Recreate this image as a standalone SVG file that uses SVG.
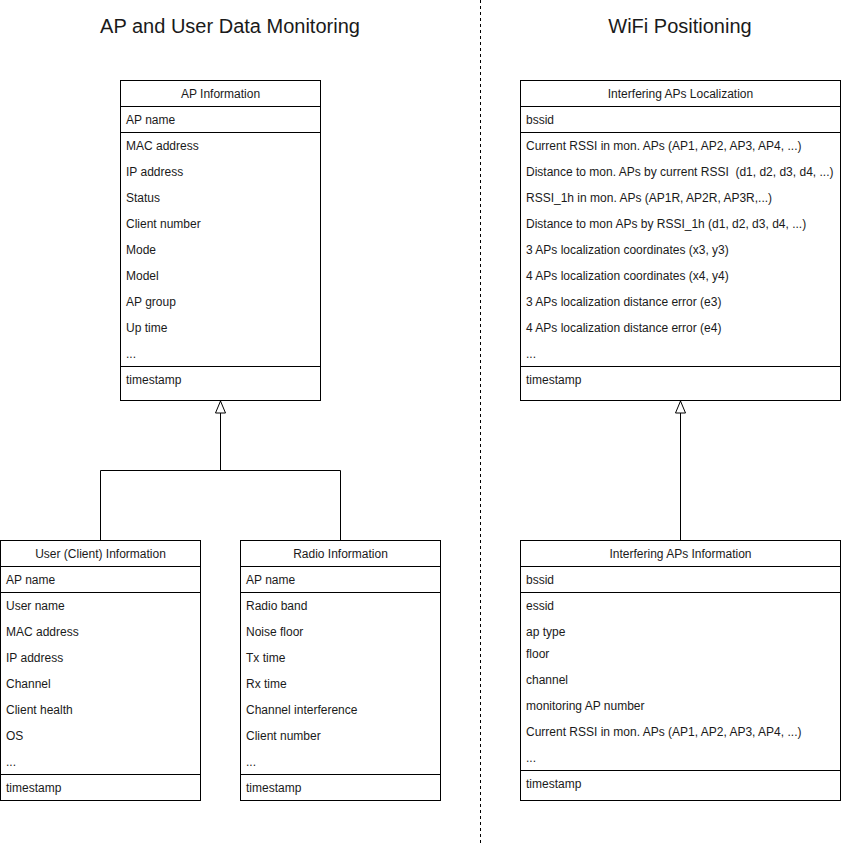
<svg xmlns="http://www.w3.org/2000/svg" width="841" height="843" viewBox="0 0 841 843">
<style>
.box{fill:#fff;stroke:#000;stroke-width:1}
.sep{stroke:#000;stroke-width:1}
.t{font-family:"Liberation Sans",Arial,sans-serif;font-size:12px;fill:#1a1a1a}
.h{text-anchor:middle}
.title{font-family:"Liberation Sans",Arial,sans-serif;font-size:20px;fill:#1a1a1a;text-anchor:middle}
.c{fill:none;stroke:#000;stroke-width:1}
</style>
<defs>
<marker id="tri" markerWidth="14" markerHeight="14" refX="13" refY="6" orient="auto" markerUnits="userSpaceOnUse" viewBox="0 0 14 14">
<path d="M1,1 L13,6 L1,11 Z" fill="#fff" stroke="#000" stroke-width="1"/>
</marker>
</defs>
<rect width="841" height="843" fill="#fff"/>
<g id="titles">
<text class="title" x="230" y="33">AP and User Data Monitoring</text>
<text class="title" x="680" y="33">WiFi Positioning</text>
</g>
<line x1="480.5" y1="0" x2="480.5" y2="843" stroke="#000" stroke-width="1" stroke-dasharray="3,3"/>
<g id="connectors">
<path class="c" d="M100.5,540 V470.5 H340.5 V540"/>
<path class="c" d="M220.5,470.5 V401" marker-end="url(#tri)"/>
<path class="c" d="M680.5,540 L680.5,401" marker-end="url(#tri)"/>
</g>
<g id="ap-information">
<rect class="box" x="120.5" y="80.5" width="200" height="320"/>
<line class="sep" x1="120.5" y1="106.5" x2="320.5" y2="106.5"/>
<line class="sep" x1="120.5" y1="132.5" x2="320.5" y2="132.5"/>
<line class="sep" x1="120.5" y1="366.5" x2="320.5" y2="366.5"/>
<text class="t h" x="220.5" y="98">AP Information</text>
<text class="t" x="126" y="124">AP name</text>
<text class="t" x="126" y="150">MAC address</text>
<text class="t" x="126" y="176">IP address</text>
<text class="t" x="126" y="202">Status</text>
<text class="t" x="126" y="228">Client number</text>
<text class="t" x="126" y="254">Mode</text>
<text class="t" x="126" y="280">Model</text>
<text class="t" x="126" y="306">AP group</text>
<text class="t" x="126" y="332">Up time</text>
<text class="t" x="126" y="358">...</text>
<text class="t" x="126" y="384">timestamp</text>
</g>
<g id="user-information">
<rect class="box" x="0.5" y="540.5" width="200" height="260"/>
<line class="sep" x1="0.5" y1="566.5" x2="200.5" y2="566.5"/>
<line class="sep" x1="0.5" y1="592.5" x2="200.5" y2="592.5"/>
<line class="sep" x1="0.5" y1="774.5" x2="200.5" y2="774.5"/>
<text class="t h" x="100.5" y="558">User (Client) Information</text>
<text class="t" x="6" y="584">AP name</text>
<text class="t" x="6" y="610">User name</text>
<text class="t" x="6" y="636">MAC address</text>
<text class="t" x="6" y="662">IP address</text>
<text class="t" x="6" y="688">Channel</text>
<text class="t" x="6" y="714">Client health</text>
<text class="t" x="6" y="740">OS</text>
<text class="t" x="6" y="766">...</text>
<text class="t" x="6" y="792">timestamp</text>
</g>
<g id="radio-information">
<rect class="box" x="240.5" y="540.5" width="200" height="260"/>
<line class="sep" x1="240.5" y1="566.5" x2="440.5" y2="566.5"/>
<line class="sep" x1="240.5" y1="592.5" x2="440.5" y2="592.5"/>
<line class="sep" x1="240.5" y1="774.5" x2="440.5" y2="774.5"/>
<text class="t h" x="340.5" y="558">Radio Information</text>
<text class="t" x="246" y="584">AP name</text>
<text class="t" x="246" y="610">Radio band</text>
<text class="t" x="246" y="636">Noise floor</text>
<text class="t" x="246" y="662">Tx time</text>
<text class="t" x="246" y="688">Rx time</text>
<text class="t" x="246" y="714">Channel interference</text>
<text class="t" x="246" y="740">Client number</text>
<text class="t" x="246" y="766">...</text>
<text class="t" x="246" y="792">timestamp</text>
</g>
<g id="interfering-aps-localization">
<rect class="box" x="520.5" y="80.5" width="320" height="320"/>
<line class="sep" x1="520.5" y1="106.5" x2="840.5" y2="106.5"/>
<line class="sep" x1="520.5" y1="132.5" x2="840.5" y2="132.5"/>
<line class="sep" x1="520.5" y1="366.5" x2="840.5" y2="366.5"/>
<text class="t h" x="680.5" y="98">Interfering APs Localization</text>
<text class="t" x="526" y="124">bssid</text>
<text class="t" x="526" y="150">Current RSSI in mon. APs (AP1, AP2, AP3, AP4, ...)</text>
<text class="t" x="526" y="176" xml:space="preserve">Distance to mon. APs by current RSSI  (d1, d2, d3, d4, ...)</text>
<text class="t" x="526" y="202">RSSI_1h in mon. APs (AP1R, AP2R, AP3R,...)</text>
<text class="t" x="526" y="228">Distance to mon APs by RSSI_1h (d1, d2, d3, d4, ...)</text>
<text class="t" x="526" y="254">3 APs localization coordinates (x3, y3)</text>
<text class="t" x="526" y="280">4 APs localization coordinates (x4, y4)</text>
<text class="t" x="526" y="306">3 APs localization distance error (e3)</text>
<text class="t" x="526" y="332">4 APs localization distance error (e4)</text>
<text class="t" x="526" y="358">...</text>
<text class="t" x="526" y="384">timestamp</text>
</g>
<g id="interfering-aps-information">
<rect class="box" x="520.5" y="540.5" width="320" height="260"/>
<line class="sep" x1="520.5" y1="566.5" x2="840.5" y2="566.5"/>
<line class="sep" x1="520.5" y1="592.5" x2="840.5" y2="592.5"/>
<line class="sep" x1="520.5" y1="770.5" x2="840.5" y2="770.5"/>
<text class="t h" x="680.5" y="558">Interfering APs Information</text>
<text class="t" x="526" y="584">bssid</text>
<text class="t" x="526" y="610">essid</text>
<text class="t" x="526" y="636">ap type</text>
<text class="t" x="526" y="658">floor</text>
<text class="t" x="526" y="684">channel</text>
<text class="t" x="526" y="710">monitoring AP number</text>
<text class="t" x="526" y="736">Current RSSI in mon. APs (AP1, AP2, AP3, AP4, ...)</text>
<text class="t" x="526" y="762">...</text>
<text class="t" x="526" y="788">timestamp</text>
</g>
</svg>
